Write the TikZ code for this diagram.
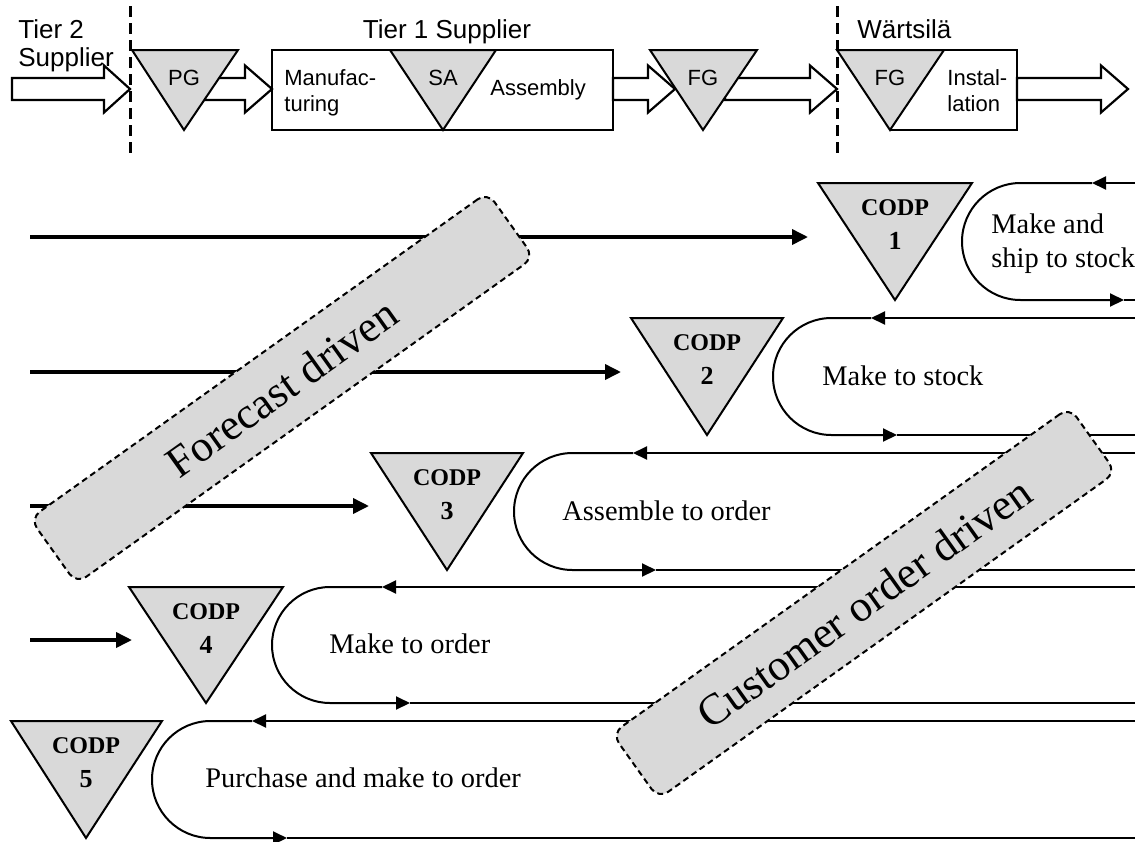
\documentclass[tikz,border=0pt]{standalone}
\usepackage{fontspec}
\newfontfamily\arialfont{Liberation Sans}
\newfontfamily\seriffont{Liberation Serif}
\usetikzlibrary{arrows.meta}
\definecolor{codpgray}{RGB}{217,217,217}

\tikzset{
  tri/.style={draw, line width=1pt, fill=codpgray, line join=miter},
  blockarrow/.style={draw, line width=1.1pt, fill=white, line join=miter},
  plainbox/.style={draw, line width=1.1pt},
  tierline/.style={line width=1.5pt, dash pattern=on 5.5pt off 3pt},
  flow/.style={line width=1.8pt, -{Triangle[length=8pt,width=7.5pt]}},
  loopline/.style={line width=1pt},
  looptip/.style={-{Triangle[length=7pt,width=6.5pt]}},
  titletext/.style={font=\arialfont\fontsize{13}{15}\selectfont, inner sep=0pt},
  labeltext/.style={font=\arialfont\fontsize{11}{13}\selectfont, inner sep=0pt},
  looptext/.style={font=\seriffont\fontsize{14.2}{17}\selectfont, inner sep=0pt, anchor=base west},
  codptext/.style={font=\seriffont\bfseries\fontsize{12}{14}\selectfont, inner sep=0pt, anchor=base},
  codpnum/.style={font=\seriffont\bfseries\fontsize{13}{15}\selectfont, inner sep=0pt, anchor=base},
  drivebox/.style={draw, line width=1pt, dash pattern=on 3pt off 2pt, fill=codpgray,
    rounded corners=6pt, minimum width=281pt, minimum height=40pt, rotate=35.5,
    font=\seriffont\fontsize{22}{25}\selectfont},
}

% block arrow: start x, head start x, tip x (all on the flow axis y = 89)
\newcommand\blockarr[3]{%
  \draw[blockarrow] (#1,78) -- (#2,78) -- (#2,65.5) -- (#3,89) -- (#2,112.5) -- (#2,100) -- (#1,100) -- cycle;}

\begin{document}
\begin{tikzpicture}[x=0.5pt,y=-0.5pt]
\fill[white] (0,0) rectangle (1135,841);
\useasboundingbox (0,0) rectangle (1135,841);

% ---------------- supply chain strip ----------------
\draw[tierline] (130,6) -- (130,153);
\draw[tierline] (837,6) -- (837,153);

\node[titletext, anchor=base west] (t2a) at (18,38) {Tier 2};
\node[titletext, anchor=base west] (t2b) at (18,66) {Supplier};
\node[titletext, anchor=base] (t1) at (447,38) {Tier 1 Supplier};
\node[titletext, anchor=base west] (wa) at (857,38) {Wärtsilä};

% material flow arrows
\blockarr{12}{104}{130}
\blockarr{205}{245}{272}
\blockarr{613}{648}{675}
\blockarr{725}{810}{837}
\blockarr{1017}{1101}{1128}

% tier 1 supplier block
\draw[plainbox] (272,50) rectangle (613,130);
% Wärtsilä block (open on the left)
\draw[plainbox] (837,50) -- (1017,50) -- (1017,130) -- (890,130);

% stock points
\draw[tri] (132,50) -- (238,50) -- (184,130) -- cycle;
\draw[tri] (390,50) -- (496,50) -- (443,130) -- cycle;
\draw[tri] (650,50) -- (757,50) -- (703,130) -- cycle;
\draw[tri] (837,50) -- (944,50) -- (890,130) -- cycle;

\node[labeltext, anchor=base] (pg) at (184,85) {PG};
\node[labeltext, anchor=base] (sa) at (443,85) {SA};
\node[labeltext, anchor=base] (fg1) at (703,85) {FG};
\node[labeltext, anchor=base] (fg2) at (890,85) {FG};
\node[labeltext, anchor=base west] (man1) at (284,85) {Manufac-};
\node[labeltext, anchor=base west] (man2) at (284,111) {turing};
\node[labeltext, anchor=base west] (asm) at (490,95) {Assembly};
\node[labeltext, anchor=base west] (ins1) at (947,85) {Instal-};
\node[labeltext, anchor=base west] (ins2) at (947,111) {lation};

% ---------------- order loops (left x, top y, bottom y, tip x top, tip x bottom) ----------------
\foreach \L/\T/\B/\ta/\tb in {962/183/300/1092/1124, 773/318/435/871/897,
    514/453/570/633/656, 272/587/703/382/410, 152/721/838/252/287} {
  \pgfmathsetmacro\r{(\B-\T)/2}
  \pgfmathsetmacro\rr{(\B-\T)/4}
  \pgfmathsetmacro\cx{\L+\r}
  \draw[loopline, looptip] (1136,\T) -- (\ta,\T);
  \draw[loopline, looptip] (\ta,\T) -- (\cx,\T) arc[start angle=90, end angle=270, radius=\rr pt] -- (\tb,\B);
  \draw[loopline] (\tb,\B) -- (1136,\B);
}

% forecast flows into the decoupling points
\coordinate (s1) at (30,237);  \coordinate (e1) at (808,237);
\coordinate (s2) at (30,372);  \coordinate (e2) at (621,372);
\coordinate (s3) at (30,506);  \coordinate (e3) at (369,506);
\coordinate (s4) at (30,640);  \coordinate (e4) at (132,640);
\draw[flow] (s1) -- (e1);
\draw[flow] (s2) -- (e2);
\draw[flow] (s3) -- (e3);
\draw[flow] (s4) -- (e4);

% customer order decoupling points
\draw[tri] (818,183) -- (972,183) -- (895,300) -- cycle;
\draw[tri] (631,318) -- (783,318) -- (707,435) -- cycle;
\draw[tri] (371,453) -- (523,453) -- (447,570) -- cycle;
\draw[tri] (129,587) -- (283,587) -- (206,703) -- cycle;
\draw[tri] (11,721) -- (162,721) -- (86,838) -- cycle;

\node[codptext] (c1) at (895,215) {CODP};  \node[codpnum] (n1) at (895,249) {1};
\node[codptext] (c2) at (707,350) {CODP};  \node[codpnum] (n2) at (707,384) {2};
\node[codptext] (c3) at (447,485) {CODP};  \node[codpnum] (n3) at (447,519) {3};
\node[codptext] (c4) at (206,619) {CODP};  \node[codpnum] (n4) at (206,653) {4};
\node[codptext] (c5) at (86,753) {CODP};   \node[codpnum] (n5) at (86,787) {5};

% strategy names
\node[looptext] (l1a) at (991,233) {Make and};
\node[looptext] (l1b) at (991,267) {ship to stock};
\node[looptext] (l2) at (822,385) {Make to stock};
\node[looptext] (l3) at (562,520) {Assemble to order};
\node[looptext] (l4) at (329,653) {Make to order};
\node[looptext] (l5) at (205,787) {Purchase and make to order};

% driver bands
\node[drivebox] (fd) at (282,388) {Forecast driven};
\node[drivebox] (cd) at (864,603) {Customer order driven};
\end{tikzpicture}
\end{document}
